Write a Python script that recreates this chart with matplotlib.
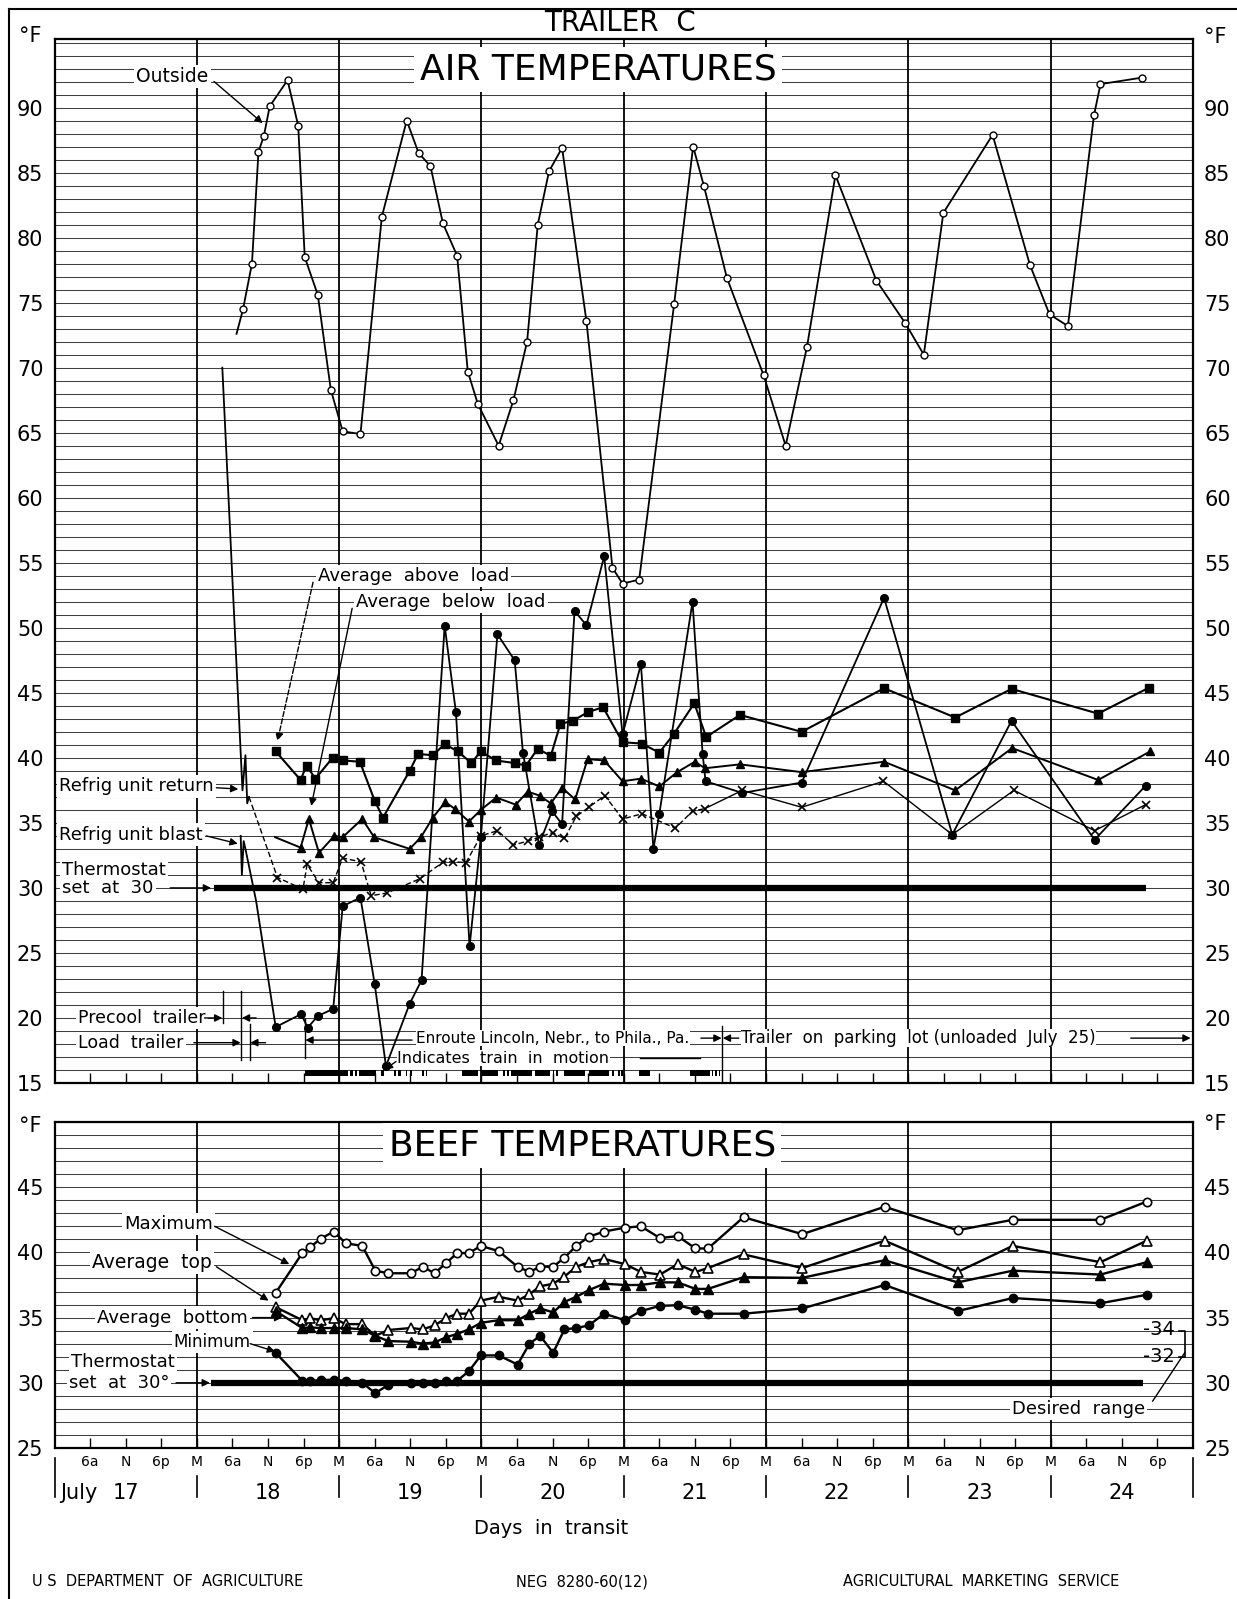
import numpy as np
import matplotlib
matplotlib.use('Agg')
import matplotlib.pyplot as plt
from matplotlib.lines import Line2D
from matplotlib.transforms import blended_transform_factory

matplotlib.rcParams.update({
    'font.family': 'DejaVu Sans',
    'font.size': 13,
})

# time is counted in hours after midnight at the start of July 17

# ---- air temperatures, deg F ----
outside_h = [30.7, 31.8, 33.3, 34.4, 35.3, 36.3, 39.3, 41.1, 42.2, 44.4, 46.6, 48.6,
             51.6, 55.2, 59.4, 61.4, 63.4, 65.5, 67.9, 69.7, 71.4, 74.9, 77.4, 79.7,
             81.5, 83.4, 85.6, 89.7, 94.1, 95.8, 98.6, 104.5, 107.7, 109.5, 113.4, 119.6,
             123.3, 126.9, 131.7, 138.6, 143.5, 146.6, 149.9, 158.2, 164.5, 167.8, 170.9, 175.3,
             176.4, 183.4]
outside_t = [72.6, 74.5, 78.0, 86.6, 87.8, 90.1, 92.1, 88.6, 78.5, 75.6, 68.3, 65.1,
             64.9, 81.6, 89.0, 86.5, 85.5, 81.1, 78.6, 69.7, 67.2, 64.0, 67.5, 72.0,
             81.0, 85.1, 86.9, 73.6, 54.6, 53.4, 53.7, 74.9, 87.0, 84.0, 76.9, 69.4,
             64.0, 71.6, 84.8, 76.7, 73.4, 71.0, 81.9, 87.9, 77.9, 74.1, 73.2, 89.4,
             91.8, 92.3]

above_h = [37.3, 41.5, 42.5, 44.0, 46.9, 48.6, 51.5, 54.0, 55.4, 59.9,
           61.3, 63.8, 65.8, 68.0, 70.3, 71.9, 74.4, 77.6, 79.5, 81.5,
           83.7, 85.3, 87.4, 89.9, 92.5, 95.8, 99.0, 102.0, 104.4, 107.9,
           109.9, 115.6, 126.0, 139.9, 151.9, 161.4, 176.0, 184.6]
above_t = [40.5, 38.3, 39.4, 38.4, 40.0, 39.8, 39.7, 36.7, 35.4, 39.0,
           40.3, 40.2, 41.05, 40.5, 39.6, 40.5, 39.8, 39.6, 39.4, 40.7,
           40.15, 42.6, 42.85, 43.5, 43.9, 41.2, 41.1, 40.4, 41.8, 44.2,
           41.6, 43.3, 42.0, 45.35, 43.1, 45.3, 43.4, 45.4]

below_h = [37.2, 41.5, 42.9, 44.6, 47.2, 48.6, 51.9, 53.9, 59.9, 61.8,
           63.8, 65.9, 67.6, 69.9, 71.9, 74.5, 77.8, 79.8, 81.8, 83.7,
           85.6, 87.8, 89.9, 92.7, 95.8, 98.9, 102.0, 105.0, 108.0, 109.7,
           115.6, 126.0, 139.9, 151.9, 161.5, 176.0, 184.8]
below_t = [33.9, 33.1, 35.3, 32.7, 34.0, 33.9, 35.3, 33.9, 33.0, 33.9,
           35.4, 36.6, 36.05, 35.1, 36.0, 36.95, 36.4, 37.4, 37.1, 36.5,
           37.7, 36.8, 39.9, 39.8, 38.2, 38.4, 37.8, 38.9, 39.7, 39.2,
           39.5, 38.9, 39.7, 37.5, 40.75, 38.3, 40.5]

blast_h = [31.4, 31.6, 31.9, 32.2, 34.0, 37.3, 41.6, 42.7, 44.4, 47.0,
           48.6, 51.6, 54.0, 55.9, 59.9, 61.9, 65.8, 67.7, 70.0, 71.9,
           74.7, 77.6, 79.0, 81.7, 83.9, 85.6, 87.7, 89.7, 92.7, 95.8,
           98.9, 101.0, 102.0, 107.6, 109.3, 109.8, 116.0, 126.0, 139.9, 151.4,
           161.4, 175.4, 184.0]
blast_t = [34.0, 31.0, 33.6, 33.0, 29.0, 19.3, 20.3, 19.25, 20.15, 20.7,
           28.6, 29.25, 22.6, 16.3, 21.1, 22.9, 50.15, 43.5, 25.5, 33.9,
           49.5, 47.5, 40.4, 33.3, 35.9, 34.9, 51.3, 50.2, 55.5, 41.8,
           47.2, 33.0, 35.7, 52.0, 40.3, 38.2, 37.3, 38.1, 52.3, 34.1,
           42.85, 33.7, 37.85]

return_h = [28.3, 31.7, 32.2, 32.5, 32.8, 37.6, 41.9, 42.6, 44.6, 47.0,
            48.6, 51.7, 53.4, 56.0, 61.6, 65.6, 67.2, 69.4, 71.9, 74.7,
            77.4, 79.8, 81.7, 84.0, 86.0, 88.0, 90.1, 92.8, 95.8, 99.1,
            104.7, 107.6, 109.7, 116.0, 126.0, 139.8, 151.4, 161.8, 175.4, 184.0]
return_t = [70.0, 37.5, 40.2, 36.5, 37.0, 30.8, 29.9, 31.8, 30.4, 30.4,
            32.3, 32.0, 29.4, 29.6, 30.7, 32.0, 32.0, 31.95, 34.0, 34.4,
            33.3, 33.6, 33.9, 34.25, 33.8, 35.5, 36.2, 37.1, 35.3, 35.7,
            34.6, 35.9, 36.1, 37.5, 36.2, 38.2, 34.1, 37.5, 34.4, 36.4]

thermostat = 30
thermostat_air = (26.9, 184.0)
thermostat_beef = (26.4, 183.5)

# periods (start, end hour) when the train was moving
train_moving = [(42.2, 49.5), (49.8, 50.3), (50.6, 51.0), (51.3, 54.3), (55.0, 55.5),
                (57.2, 57.6), (58.0, 58.4), (59.2, 59.5), (59.9, 60.3), (62.0, 62.3),
                (62.6, 62.9), (68.8, 71.5), (72.0, 74.8), (75.6, 75.9), (76.3, 76.6),
                (77.0, 80.5), (81.0, 83.5), (84.0, 84.3), (84.6, 84.9), (86.0, 89.5),
                (90.2, 93.5), (94.0, 94.3), (95.0, 95.3), (95.6, 95.9), (98.6, 100.4),
                (107.2, 110.5), (110.8, 111.1), (111.4, 111.7), (112.0, 112.3)]

# ---- beef temperatures, deg F ----
beef_h = [37.3, 41.8, 43.1, 44.9, 47.1, 49.1, 51.9, 54.1, 56.3, 60.1,
          62.1, 64.1, 66.1, 67.9, 69.9, 71.9, 74.9, 78.1, 80.1, 81.9,
          84.1, 86.0, 88.0, 90.1, 92.7, 96.2, 98.9, 102.1, 105.1, 108.1,
          110.2, 116.2, 126.1, 140.0, 152.3, 161.6, 176.4, 184.2]
beef_max = [36.9, 39.95, 40.4, 41.05, 41.6, 40.7, 40.5, 38.6, 38.4, 38.4,
            38.9, 38.4, 39.2, 39.95, 39.95, 40.5, 40.1, 38.9, 38.5, 38.9,
            38.9, 39.6, 40.5, 41.2, 41.6, 41.9, 42.0, 41.1, 41.25, 40.3,
            40.3, 42.7, 41.4, 43.5, 41.7, 42.5, 42.5, 43.9]
beef_top = [35.8, 34.8, 34.95, 34.8, 34.95, 34.5, 34.5, 33.6, 34.05, 34.2,
            34.1, 34.4, 34.98, 35.3, 35.3, 36.3, 36.6, 36.3, 36.8, 37.4,
            37.6, 38.15, 38.9, 39.25, 39.5, 39.1, 38.5, 38.3, 39.1, 38.5,
            38.8, 39.85, 38.8, 40.9, 38.5, 40.5, 39.25, 40.9]
beef_bottom = [35.5, 34.2, 34.25, 34.2, 34.2, 34.2, 34.1, 33.6, 33.2, 33.15,
               33.0, 33.1, 33.5, 33.75, 34.1, 34.6, 34.8, 34.8, 35.3, 35.7,
               35.4, 36.2, 36.6, 37.1, 37.6, 37.5, 37.5, 37.7, 37.7, 37.2,
               37.2, 38.1, 38.05, 39.4, 37.7, 38.6, 38.3, 39.25]
beef_min = [32.3, 30.15, 30.15, 30.2, 30.25, 30.15, 30.0, 29.2, 29.85, 30.0,
            29.95, 29.95, 30.1, 30.15, 30.9, 32.1, 32.1, 31.4, 33.0, 33.6,
            32.3, 34.1, 34.2, 34.4, 35.3, 34.8, 35.5, 35.9, 35.95, 35.6,
            35.3, 35.3, 35.7, 37.5, 35.5, 36.5, 36.1, 36.75]
desired_range = (32, 34)

day_names = ['17', '18', '19', '20', '21', '22', '23', '24']
hour_names = ['6a', 'N', '6p', 'M']
air_ticks = list(range(15, 95, 5))
beef_ticks = list(range(25, 50, 5))

W, H = 1237.0, 1599.0
fig = plt.figure(figsize=(W / 100, H / 100), dpi=100)
box = dict(facecolor='white', edgecolor='none', pad=1.5)
tight_box = dict(facecolor='white', edgecolor='none', pad=0.3)


def add_panel(top, bottom):
    return fig.add_axes([54.5 / W, 1 - bottom / H, (1193 - 54.5) / W, (bottom - top) / H])


def grid_panel(ax, lo, hi, ticks):
    ax.set_xlim(0, 192)
    ax.set_ylim(lo, hi)
    for y in range(int(np.ceil(lo)), int(np.floor(hi)) + 1):
        ax.axhline(y, color='#404040', lw=0.75, zorder=0)
    for d in range(24, 192, 24):
        ax.axvline(d, color='black', lw=1.3, zorder=1)
    ax.set_yticks(ticks)
    ax.set_xticks(np.arange(6, 192, 6))
    ax.tick_params(axis='y', length=0, labelsize=15, labelleft=True, labelright=True, pad=8)
    ax.tick_params(axis='x', direction='in', length=7, width=1, labelbottom=False)
    for s in ax.spines.values():
        s.set_linewidth(1.6)


def arrow(ax, x0, y0, x1, y1, ls='-'):
    ax.annotate('', xy=(x1, y1), xytext=(x0, y0), zorder=6,
                arrowprops=dict(arrowstyle='-|>', color='black', lw=1, linestyle=ls,
                                mutation_scale=11, shrinkA=0, shrinkB=0))


# ================= AIR TEMPERATURES =================
ax1 = add_panel(38.6, 1083)
grid_panel(ax1, 15, 95.3, air_ticks)

ax1.plot(outside_h, outside_t, color='black', lw=1.3, marker='o', ms=5, mfc='white',
         mec='black', mew=1, markevery=list(range(1, len(outside_h))), zorder=3)
ax1.plot(blast_h, blast_t, color='black', lw=1.3, marker='o', ms=5.5,
         markevery=list(range(5, len(blast_h))), zorder=3)
ax1.plot(above_h, above_t, color='black', lw=1.5, marker='s', ms=5.5, zorder=3)
ax1.plot(below_h, below_t, color='black', lw=1.4, marker='^', ms=6,
         markevery=list(range(1, len(below_h))), zorder=3)
# return air: solid drop while precooling, dashed in transit, thin solid on the lot
ax1.plot(return_h[:5], return_t[:5], color='black', lw=1.3, zorder=3)
ax1.plot(return_h[4:33], return_t[4:33], color='black', lw=1.0, ls=(0, (4, 2)), marker='x',
         ms=6, mew=1.2, markevery=list(range(1, 29)), zorder=3)
ax1.plot(return_h[32:], return_t[32:], color='black', lw=1.0, marker='x', ms=6, mew=1.2,
         markevery=list(range(1, len(return_h) - 32)), zorder=3)
ax1.plot(thermostat_air, [thermostat, thermostat], color='black', lw=4.5, zorder=3,
         solid_capstyle='butt')
ax1.broken_barh([(s, e - s) for s, e in train_moving], (15.55, 0.45), facecolors='black', zorder=3)

ax1.text(91.7, 92.9, 'AIR TEMPERATURES', ha='center', va='center', fontsize=26,
         bbox=dict(facecolor='white', edgecolor='none', pad=4), zorder=5)

ax1.text(19.9, 92.4, 'Outside', ha='center', va='center', fontsize=13.5, bbox=box, zorder=5)
arrow(ax1, 26.9, 92.0, 35.1, 88.8)

ax1.text(44.4, 54.0, 'Average  above  load', ha='left', va='center', fontsize=13, bbox=box, zorder=5)
arrow(ax1, 43.6, 53.5, 37.6, 41.3, ls='--')
ax1.text(50.9, 52.0, 'Average  below  load', ha='left', va='center', fontsize=13, bbox=box, zorder=5)
arrow(ax1, 50.2, 51.5, 43.3, 36.3)

ax1.text(0.8, 37.8, 'Refrig unit return', ha='left', va='center', fontsize=13, bbox=box, zorder=5)
arrow(ax1, 27.3, 37.7, 31.0, 37.6)
ax1.text(0.8, 34.1, 'Refrig unit blast', ha='left', va='center', fontsize=13, bbox=box, zorder=5)
arrow(ax1, 25.6, 34.0, 30.9, 33.4)
ax1.text(1.3, 31.4, 'Thermostat', ha='left', va='center', fontsize=13, bbox=box, zorder=5)
ax1.text(1.3, 30.0, 'set  at  30', ha='left', va='center', fontsize=13, bbox=box, zorder=5)
arrow(ax1, 19.5, 30.0, 26.4, 30.0)

ax1.text(4.0, 20.0, 'Precool  trailer', ha='left', va='center', fontsize=12.5, bbox=box, zorder=5)
arrow(ax1, 25.3, 20.0, 28.3, 20.0)
arrow(ax1, 34.0, 20.0, 31.6, 20.0)
ax1.text(4.0, 18.1, 'Load  trailer', ha='left', va='center', fontsize=12.5, bbox=box, zorder=5)
arrow(ax1, 23.5, 18.1, 31.4, 18.1)
arrow(ax1, 35.6, 18.1, 33.0, 18.1)
arrow(ax1, 60.3, 18.3, 42.3, 18.3)
for x, y0, y1 in [(28.4, 19.6, 22.1), (31.5, 16.8, 22.1), (32.9, 16.8, 19.5),
                  (42.2, 16.9, 19.9), (112.6, 15.0, 19.4)]:
    ax1.plot([x, x], [y0, y1], color='black', lw=1, zorder=4)

ax1.text(61.0, 18.45, 'Enroute Lincoln, Nebr., to Phila., Pa.', ha='left', va='center',
         fontsize=11, bbox=tight_box, zorder=6)
arrow(ax1, 109.0, 18.45, 112.5, 18.45)
arrow(ax1, 115.4, 18.45, 112.7, 18.45)
ax1.text(115.8, 18.45, 'Trailer  on  parking  lot (unloaded  July  25)', ha='left', va='center',
         fontsize=12, bbox=tight_box, zorder=6)
arrow(ax1, 181.5, 18.45, 191.6, 18.45)
ax1.text(57.8, 16.9, 'Indicates  train  in  motion', ha='left', va='center', fontsize=11.5,
         bbox=tight_box, zorder=5)
ax1.plot([98.8, 108.8], [16.9, 16.9], color='black', lw=1, zorder=4)
arrow(ax1, 57.6, 16.65, 55.7, 16.05)

# ================= BEEF TEMPERATURES =================
ax2 = add_panel(1122, 1448)
grid_panel(ax2, 25, 50, beef_ticks)

ax2.plot(beef_h, beef_max, color='black', lw=1.7, marker='o', ms=6, mfc='white', mew=1.2, zorder=3)
ax2.plot(beef_h, beef_top, color='black', lw=1.7, marker='^', ms=6.5, mfc='white', mew=1.2, zorder=3)
ax2.plot(beef_h, beef_bottom, color='black', lw=1.7, marker='^', ms=6.5, zorder=3)
ax2.plot(beef_h, beef_min, color='black', lw=1.7, marker='o', ms=6, zorder=3)
ax2.plot(thermostat_beef, [thermostat, thermostat], color='black', lw=4.5, zorder=3,
         solid_capstyle='butt')

ax2.text(89.0, 48.2, 'BEEF TEMPERATURES', ha='center', va='center', fontsize=26,
         bbox=dict(facecolor='white', edgecolor='none', pad=4), zorder=5)

ax2.text(19.3, 42.2, 'Maximum', ha='center', va='center', fontsize=13, bbox=box, zorder=5)
arrow(ax2, 27.0, 42.0, 39.6, 39.1)
ax2.text(16.4, 39.2, 'Average  top', ha='center', va='center', fontsize=13.5, bbox=box, zorder=5)
arrow(ax2, 27.3, 38.9, 36.1, 36.3)
ax2.text(19.9, 35.0, 'Average  bottom', ha='center', va='center', fontsize=13, bbox=box, zorder=5)
arrow(ax2, 33.4, 35.0, 38.4, 35.0)
ax2.text(26.6, 33.1, 'Minimum', ha='center', va='center', fontsize=12, bbox=box, zorder=5)
arrow(ax2, 33.0, 33.0, 37.2, 32.4)
ax2.text(2.8, 31.6, 'Thermostat', ha='left', va='center', fontsize=13, bbox=box, zorder=5)
ax2.text(2.4, 30.0, 'set  at  30°', ha='left', va='center', fontsize=13, bbox=box, zorder=5)
arrow(ax2, 20.5, 30.0, 26.2, 30.0)

lo_r, hi_r = desired_range
ax2.text(183.6, hi_r + 0.1, '-%d' % hi_r, ha='left', va='center', fontsize=14, zorder=5)
ax2.text(183.6, lo_r, '-%d' % lo_r, ha='left', va='center', fontsize=14, zorder=5)
ax2.plot([189.6, 190.6, 190.6, 189.6], [hi_r, hi_r, lo_r, lo_r], color='black', lw=1.2, zorder=5)
ax2.plot([190.6, 185.2], [lo_r + 0.3, 28.6], color='black', lw=1, zorder=5)
ax2.text(172.7, 28.0, 'Desired  range', ha='center', va='center', fontsize=13, bbox=box, zorder=5)

# time axis labels under the beef panel
ax2.set_xticklabels((hour_names * 8)[:len(ax2.get_xticks())])
ax2.tick_params(axis='x', labelbottom=True, labelsize=10, pad=5)
tr = blended_transform_factory(ax2.transData, ax2.transAxes)
for d in range(0, 193, 24):
    top = -0.03 if d in (0, 192) else -0.085
    ax2.plot([d, d], [top, -0.15], color='black', lw=1.2, transform=tr, clip_on=False)
for i, name in enumerate(day_names):
    ax2.text(12 + 24 * i, -0.138, name, ha='center', va='center', fontsize=15, transform=tr)
ax2.text(1.0, -0.138, 'July', ha='left', va='center', fontsize=15, transform=tr)

# ================= page text =================
fig.text(620 / W, 1 - 23 / H, 'TRAILER  C', ha='center', va='center', fontsize=20)
fig.text(30 / W, 1 - 36 / H, '°F', ha='center', va='center', fontsize=15)
fig.text(1215 / W, 1 - 37 / H, '°F', ha='center', va='center', fontsize=15)
fig.text(30 / W, 1 - 1126 / H, '°F', ha='center', va='center', fontsize=15)
fig.text(1215 / W, 1 - 1124 / H, '°F', ha='center', va='center', fontsize=15)
fig.text(551 / W, 1 - 1528 / H, 'Days  in  transit', ha='center', va='center', fontsize=14)
fig.text(32 / W, 1 - 1582 / H, 'U S  DEPARTMENT  OF  AGRICULTURE', ha='left', va='center', fontsize=10.5)
fig.text(582 / W, 1 - 1582 / H, 'NEG  8280-60(12)', ha='center', va='center', fontsize=10.5)
fig.text(981 / W, 1 - 1582 / H, 'AGRICULTURAL  MARKETING  SERVICE', ha='center', va='center', fontsize=10.5)

fig.add_artist(Line2D([9 / W, 9 / W], [0, 1 - 9 / H], transform=fig.transFigure, color='black', lw=1.5))
fig.add_artist(Line2D([9 / W, 1], [1 - 9 / H, 1 - 9 / H], transform=fig.transFigure, color='black', lw=1.5))

fig.savefig('out.png', dpi=100, facecolor='white')
